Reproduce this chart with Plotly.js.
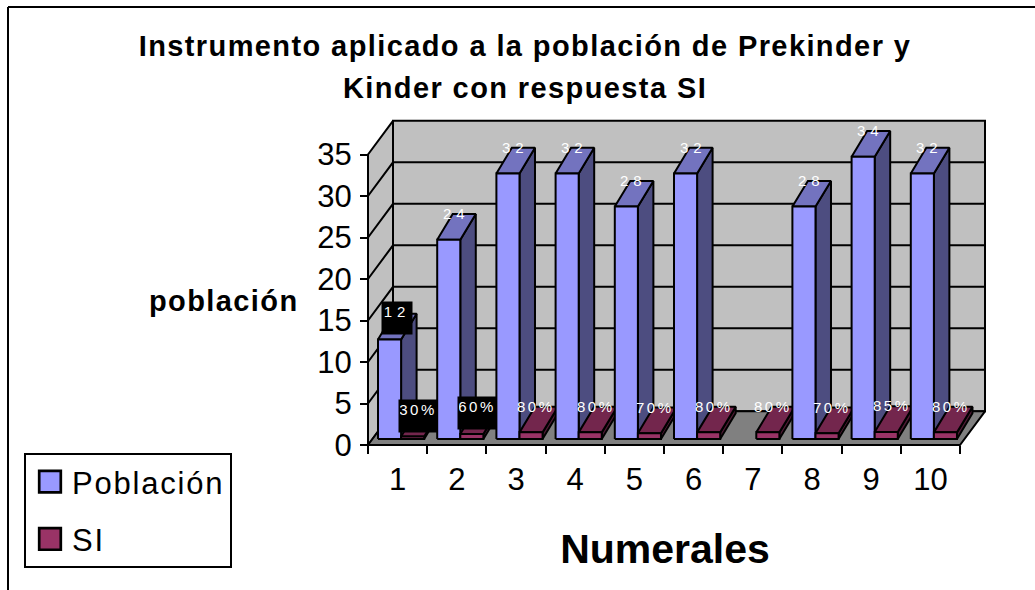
<!DOCTYPE html>
<html><head><meta charset="utf-8">
<script src="https://cdn.plot.ly/plotly-3.0.1.min.js"></script>
<style>
html,body{margin:0;padding:0;background:#fff}
.annotation-text{letter-spacing:2.5px}
.gtitle,.gtitle-subtitle{letter-spacing:1.4px}
.gtitle-subtitle{transform:translateY(-21px)}
.legendtext{letter-spacing:1.8px}
.legendpoints .scatterpts{transform:translate(24px,0) scale(1.35)}
</style></head><body><div id="chart" style="width:1035px;height:590px"></div>
<script>
const categories=['1','2','3','4','5','6','7','8','9','10'];
const poblacion=[12,24,32,32,28,32,null,28,34,32];
const si=[0.30,0.60,0.80,0.80,0.70,0.80,0.80,0.70,0.85,0.80];
const yTicks=[0,5,10,15,20,25,30,35];
const boxedLabels=['12','30%','60%'];
const titleLine1='Instrumento aplicado a la población de Prekinder y';
const titleLine2='Kinder con respuesta SI';
const yTitle='población';

const FONT='"Liberation Sans", Arial, sans-serif';
const W=1035,H=590;
const mL=340,mR=45,mT=117,mB=141;
const PW=W-mL-mR, PH=H-mT-mB;
const PXC=59.2, PYV=8.3;
const xRange=[-28/PXC,10+30/PXC];
const yRange=[-4/PYV,328/PYV];
const px=(d)=>d/PXC, py=(d)=>d/PYV;
const WALL={x:25,y:33.7};
const traces=[];
function poly(xs,ys,fill,lw){
  traces.push({type:'scatter',mode:'lines',x:xs,y:ys,fill:fill?'toself':'none',fillcolor:fill||undefined,
    line:{color:'#000',width:lw||2,simplify:false},showlegend:false,hoverinfo:'skip'});
}
const topV=yTicks[yTicks.length-1], n=categories.length;
const dX=px(WALL.x), dY=py(WALL.y);
poly([dX,n+dX,n+dX,dX,dX],[dY,dY,topV+dY,topV+dY,dY],'#C0C0C0');
poly([0,dX,dX,0,0],[0,dY,topV+dY,topV,0],'#C0C0C0');
poly([0,n,n+dX,dX,0],[0,0,dY,dY,0],'#808080');
const gx=[],gy=[];
yTicks.slice(1,-1).forEach(t=>{gx.push(0,dX,n+dX,null);gy.push(t,t+dY,t+dY,null);});
poly(gx,gy,null);

const BAR={gap:0.169,w:0.39,liftPx:6,backX:15.5,backY:25.7};
function box(l,val,colors){
  const r=l+BAR.w,b=py(BAR.liftPx),t=b+val;
  const bx=px(BAR.backX),by=py(BAR.backY);
  poly([r,r+bx,r+bx,r,r],[b,b+by,t+by,t,b],colors[2]);
  poly([l,l+bx,r+bx,r,l],[t,t+by,t+by,t,t],colors[1]);
  poly([l,r,r,l,l],[b,b,t,t,b],colors[0]);
}
const popColors=['#9999FF','#7373BF','#4D4D80'];
const siColors=['#993366','#73264D','#4D1A33'];
const annotations=[];
function label(l,val,text,xs){
  const shown=text.length===2?'<span style="letter-spacing:5px">'+text+'</span>':text;
  const a={x:l,y:py(BAR.liftPx)+val,xref:'x',yref:'y',text:shown,showarrow:false,
    xanchor:'center',yanchor:'middle',xshift:xs,yshift:26,
    font:{family:FONT,size:15,color:'#fff'}};
  if(boxedLabels.includes(text)){
    a.bgcolor='#000';a.width=text.length>2?36:28;a.height=30;a.valign='top';a.yshift=21;
  }
  annotations.push(a);
}
categories.forEach((c,i)=>{
  const lp=i+BAR.gap, ls=lp+BAR.w;
  if(poblacion[i]!==null) box(lp,poblacion[i],popColors);
  box(ls,si[i],siColors);
});
categories.forEach((c,i)=>{
  const lp=i+BAR.gap, ls=lp+BAR.w;
  if(poblacion[i]!==null) label(lp,poblacion[i],String(poblacion[i]),19);
  label(ls,si[i],Math.round(si[i]*100)+'%',17);
});
[['Población',popColors[0]],['SI',siColors[0]]].forEach(([name,col])=>{
  traces.push({type:'scatter',mode:'markers',x:[null],y:[null],name:name,legendgroup:name,
    marker:{symbol:'square',size:16,color:col,line:{color:'#000',width:2}},showlegend:true});
});
annotations.push({xref:'paper',yref:'paper',x:(224-mL)/PW,y:(H-mB-301)/PH,
  text:'<span style="letter-spacing:1.4px">'+yTitle+'</span>',showarrow:false,
  xanchor:'center',yanchor:'middle',font:{family:FONT,size:29,color:'#000',weight:700}});

const paperX=p=>(p-mL)/PW, paperY=p=>(H-mB-p)/PH;
const layout={
  width:W,height:H,paper_bgcolor:'#fff',plot_bgcolor:'rgba(0,0,0,0)',showlegend:true,
  margin:{l:mL,r:mR,t:mT,b:mB,pad:0},
  title:{text:titleLine1,x:525/W,xanchor:'center',xref:'container',y:1-46/H,yanchor:'middle',yref:'container',
    font:{family:FONT,size:29,color:'#000',weight:700},
    subtitle:{text:titleLine2,font:{family:FONT,size:29,color:'#000',weight:700}}},
  xaxis:{range:xRange,anchor:'free',position:4/PH,showgrid:false,zeroline:false,showline:false,
    tickmode:'array',tickvals:categories.map((c,i)=>i+0.5),ticktext:categories,ticks:'',ticklen:0,
    ticklabelstandoff:13,tickfont:{family:FONT,size:31,color:'#000'},
    minor:{tickmode:'array',tickvals:categories.map((c,i)=>i).concat([n]),ticks:'outside',ticklen:8,tickwidth:2,tickcolor:'#000',showgrid:false},
    title:{text:'Numerales',standoff:38,font:{family:FONT,size:41,color:'#000',weight:700}}},
  yaxis:{range:yRange,anchor:'free',position:28/PW,showgrid:false,zeroline:false,showline:false,
    tickmode:'array',tickvals:yTicks,ticks:'outside',ticklen:8,tickwidth:2,tickcolor:'#000',
    ticklabelstandoff:2,tickfont:{family:FONT,size:31,color:'#000'}},
  legend:{x:paperX(24),y:paperY(453),xanchor:'left',yanchor:'top',bgcolor:'#fff',bordercolor:'#000',borderwidth:2,itemwidth:36,
    font:{family:FONT,size:31,color:'#000'},tracegroupgap:14,traceorder:'grouped',itemclick:false,itemdoubleclick:false},
  annotations:annotations,
  shapes:[
    {type:'line',xref:'paper',yref:'paper',x0:paperX(8),x1:paperX(8),y0:paperY(7),y1:paperY(590),line:{color:'#000',width:2}},
    {type:'line',xref:'paper',yref:'paper',x0:paperX(8),x1:paperX(1035),y0:paperY(7),y1:paperY(7),line:{color:'#000',width:2}}
  ]
};
Plotly.newPlot('chart',traces,layout,{displayModeBar:false,responsive:false});
</script>
</body></html>
